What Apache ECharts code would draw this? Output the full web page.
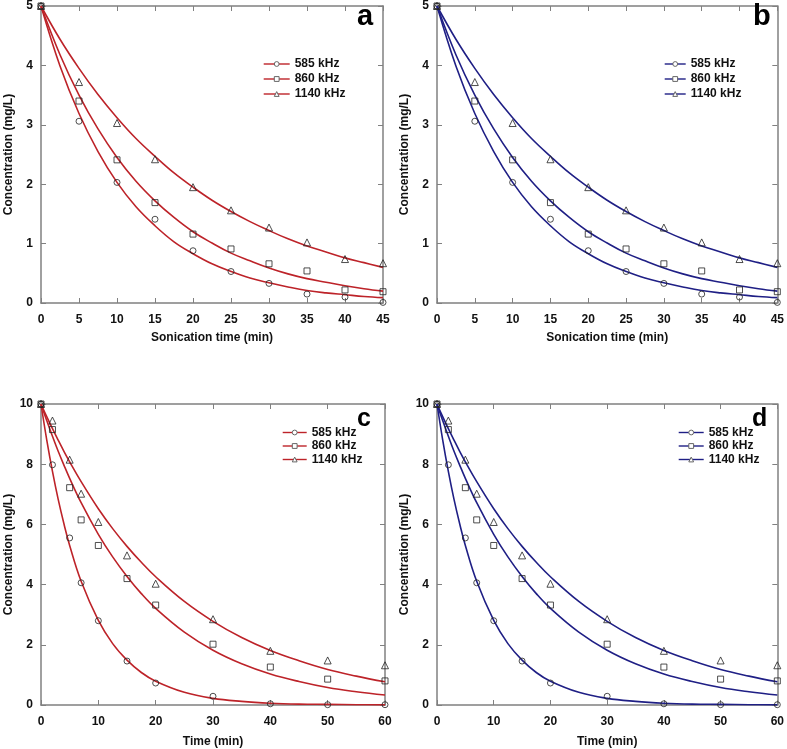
<!DOCTYPE html>
<html>
<head>
<meta charset="utf-8">
<script src="https://cdn.jsdelivr.net/npm/echarts@6/dist/echarts.min.js"></script>
<style>html,body{margin:0;padding:0;background:#fff;}#main{width:787px;height:749px;}</style>
</head>
<body>
<div id="main"></div>
<script>
// ---- Data (top panels a, b: 5 mg/L, sonication time) ----
const timeAB = [0, 5, 10, 15, 20, 25, 30, 35, 40, 45];
const ab585 = [5, 3.06, 2.03, 1.41, 0.88, 0.53, 0.33, 0.15, 0.10, 0.01];
const ab860 = [5, 3.40, 2.41, 1.69, 1.16, 0.91, 0.66, 0.54, 0.22, 0.19];
const ab1140 = [5, 3.72, 3.03, 2.42, 1.95, 1.56, 1.27, 1.02, 0.74, 0.67];
// fitted curves
const fitTimeAB = [0, 2.5, 5, 7.5, 10, 12.5, 15, 17.5, 20, 22.5, 25, 27.5, 30, 32.5, 35, 37.5, 40, 42.5, 45];
const fitAB585 = [5, 3.99, 3.19, 2.55, 2.03, 1.62, 1.30, 1.03, 0.83, 0.66, 0.53, 0.42, 0.34, 0.27, 0.21, 0.17, 0.14, 0.11, 0.09];
const fitAB860 = [5, 4.18, 3.50, 2.93, 2.45, 2.05, 1.72, 1.44, 1.20, 1.01, 0.84, 0.71, 0.59, 0.49, 0.41, 0.35, 0.29, 0.24, 0.20];
const fitAB1140 = [5, 4.44, 3.95, 3.51, 3.12, 2.77, 2.47, 2.19, 1.95, 1.73, 1.54, 1.37, 1.22, 1.08, 0.96, 0.86, 0.76, 0.68, 0.60];

// ---- Data (bottom panels c, d: 10 mg/L) ----
const timeCD = [0, 2, 5, 7, 10, 15, 20, 30, 40, 50, 60];
const cd585 = [10, 7.98, 5.55, 4.06, 2.80, 1.46, 0.73, 0.29, 0.04, 0.01, 0.01];
const cd860 = [10, 9.15, 7.22, 6.15, 5.30, 4.20, 3.32, 2.02, 1.26, 0.86, 0.80];
const cd1140 = [10, 9.45, 8.15, 7.02, 6.08, 4.97, 4.03, 2.85, 1.80, 1.48, 1.32];
const fitTimeCD = [0, 1, 2, 3, 4, 5, 7, 10, 12.5, 15, 17.5, 20, 25, 30, 35, 40, 45, 50, 55, 60];
const fitCD585 = [10, 8.81, 7.76, 6.83, 6.02, 5.30, 4.11, 2.81, 2.04, 1.49, 1.08, 0.79, 0.42, 0.22, 0.12, 0.06, 0.03, 0.02, 0.01, 0.005];
const fitCD860 = [10, 9.45, 8.93, 8.43, 7.97, 7.53, 6.72, 5.67, 4.92, 4.27, 3.70, 3.21, 2.42, 1.82, 1.37, 1.03, 0.78, 0.58, 0.44, 0.33];
const fitCD1140 = [10, 9.58, 9.18, 8.80, 8.43, 8.08, 7.42, 6.52, 5.86, 5.27, 4.74, 4.26, 3.44, 2.78, 2.24, 1.81, 1.47, 1.18, 0.96, 0.77];

const freqNames = ['585 kHz', '860 kHz', '1140 kHz'];
const panelLetters = ['a', 'b', 'c', 'd'];
const xTitles = ['Sonication time (min)', 'Sonication time (min)', 'Time (min)', 'Time (min)'];
const yTitle = 'Concentration (mg/L)';

// ---- styling / layout ----
const FONT = '"Liberation Sans", Arial, sans-serif';
const RED = '#bd2329';
const BLUE = '#1f1f85';
const GRAY = '#808080';
const symbols = ['circle', 'rect', 'triangle'];
const symSizes = [6, 6, 7];

const panels = [
  { grid: { left: 41, top: 3, width: 342, height: 300 }, color: RED, xMax: 45, xInt: 5, yMax: 5, yInt: 1, xGap: 29,
    t: timeAB, pts: [ab585, ab860, ab1140], ft: fitTimeAB, fit: [fitAB585, fitAB860, fitAB1140],
    legend: { left: 263, top: 57, itemWidth: 26, lh: 14, gap: 1 }, letter: { x: 357, y: 17, size: 29 } },
  { grid: { left: 437, top: 3, width: 343, height: 300 }, color: BLUE, xMax: 45, xInt: 5, yMax: 5, yInt: 1, xGap: 29,
    t: timeAB, pts: [ab585, ab860, ab1140], ft: fitTimeAB, fit: [fitAB585, fitAB860, fitAB1140],
    legend: { left: 664, top: 57, itemWidth: 21, lh: 14, gap: 1 }, letter: { x: 753, y: 17, size: 29 } },
  { grid: { left: 41, top: 404, width: 344, height: 301 }, color: RED, xMax: 60, xInt: 10, yMax: 10, yInt: 2, xGap: 31,
    t: timeCD, pts: [cd585, cd860, cd1140], ft: fitTimeCD, fit: [fitCD585, fitCD860, fitCD1140],
    legend: { left: 282, top: 426, itemWidth: 24, lh: 13, gap: 0.5 }, letter: { x: 357, y: 419, size: 25 } },
  { grid: { left: 437, top: 404, width: 344, height: 301 }, color: BLUE, xMax: 60, xInt: 10, yMax: 10, yInt: 2, xGap: 31,
    t: timeCD, pts: [cd585, cd860, cd1140], ft: fitTimeCD, fit: [fitCD585, fitCD860, fitCD1140],
    legend: { left: 678, top: 426, itemWidth: 25, lh: 13, gap: 0.5 }, letter: { x: 752, y: 419, size: 25 } }
];

const grids = [], xAxes = [], yAxes = [], series = [], legends = [], graphics = [];

function pairs(xs, ys) { return xs.map((x, i) => [x, ys[i]]); }

panels.forEach((p, pi) => {
  const L = panelLetters[pi];
  grids.push(Object.assign({ containLabel: false }, p.grid));
  const baseAxis = {
    gridIndex: pi, type: 'value', min: 0,
    axisLine: { show: true, onZero: false, lineStyle: { color: GRAY, width: 1.5 } },
    axisTick: { show: true, inside: true, length: 5, lineStyle: { color: GRAY, width: 1 } },
    splitLine: { show: false }
  };
  xAxes.push(Object.assign({}, baseAxis, {
    position: 'bottom', max: p.xMax, interval: p.xInt,
    name: xTitles[pi], nameLocation: 'middle', nameGap: p.xGap,
    nameTextStyle: { fontFamily: FONT, fontWeight: 'bold', fontSize: 12, color: '#111' },
    axisLabel: { fontFamily: FONT, fontWeight: 'bold', fontSize: 12, color: '#111', margin: 11 }
  }));
  xAxes.push(Object.assign({}, baseAxis, {
    position: 'top', max: p.xMax, interval: p.xInt, axisLabel: { show: false }
  }));
  yAxes.push(Object.assign({}, baseAxis, {
    position: 'left', max: p.yMax, interval: p.yInt,
    name: yTitle, nameLocation: 'middle', nameGap: 26, nameRotate: 90,
    nameTextStyle: { fontFamily: FONT, fontWeight: 'bold', fontSize: 12, color: '#111' },
    axisLabel: { fontFamily: FONT, fontWeight: 'bold', fontSize: 12, color: '#111', margin: 8 }
  }));
  yAxes.push(Object.assign({}, baseAxis, {
    position: 'right', max: p.yMax, interval: p.yInt, axisLabel: { show: false }
  }));

  const legendNames = [];
  freqNames.forEach((fn, fi) => {
    const nm = L + '|' + fn;
    legendNames.push({ name: nm, itemStyle: { color: '#ffffff', borderColor: '#666', borderWidth: 1 } });
    series.push({
      name: nm, type: 'line', xAxisIndex: pi * 2, yAxisIndex: pi * 2,
      data: pairs(p.ft, p.fit[fi]), smooth: 0.4, showSymbol: false,
      symbol: symbols[fi], symbolSize: 5,
      itemStyle: { color: '#ffffff', borderColor: '#666', borderWidth: 1 },
      lineStyle: { color: p.color, width: 1.6 },
      emphasis: { disabled: true }, silent: true, z: 2
    });
    series.push({
      name: L + '|' + fn + ' data', type: 'scatter', xAxisIndex: pi * 2, yAxisIndex: pi * 2,
      data: pairs(p.t, p.pts[fi]),
      symbol: symbols[fi], symbolSize: symSizes[fi],
      itemStyle: { color: 'rgba(255,255,255,0)', borderColor: '#222', borderWidth: 1 },
      emphasis: { disabled: true }, silent: true, z: 3
    });
  });

  legends.push({
    orient: 'vertical', left: p.legend.left, top: p.legend.top, padding: 0,
    itemWidth: p.legend.itemWidth, itemHeight: 6, itemGap: p.legend.gap,
    data: legendNames, selectedMode: false,
    lineStyle: { width: 1.4 },
    formatter: n => n.split('|')[1],
    textStyle: { fontFamily: FONT, fontWeight: 'bold', fontSize: 12, color: '#111', lineHeight: p.legend.lh }
  });

  graphics.push({
    type: 'text', x: p.letter.x, y: p.letter.y, z: 10,
    style: { text: L, fontFamily: FONT, fontWeight: 'bold', fontSize: p.letter.size, fill: '#000', verticalAlign: 'middle', align: 'left' }
  });
});

const chart = echarts.init(document.getElementById('main'), null, { renderer: 'canvas' });
chart.setOption({
  animation: false,
  backgroundColor: '#ffffff',
  textStyle: { fontFamily: FONT },
  grid: grids,
  xAxis: xAxes,
  yAxis: yAxes,
  legend: legends,
  series: series,
  graphic: graphics
});
</script>
</body>
</html>
